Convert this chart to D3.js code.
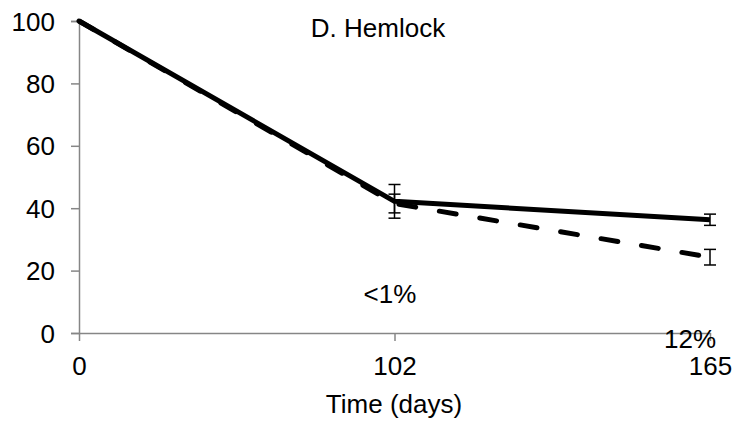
<!DOCTYPE html>
<html>
<head>
<meta charset="utf-8">
<script src="https://cdn.jsdelivr.net/npm/d3@7"></script>
<style>
  html, body { margin: 0; padding: 0; background: #fff; }
  svg { display: block; font-family: "Liberation Sans", Arial, sans-serif; }
</style>
</head>
<body>
<svg id="chart" width="738" height="422"></svg>
<script>
const categories = ["0", "102", "165"];
const solidValues = [100, 42.2, 36.3];
const solidErrors = [0, 5.4, 1.8];
const dashedValues = [100, 41.5, 24.3];
const dashedErrors = [0, 3.0, 2.5];
const yTickValues = [0, 20, 40, 60, 80, 100];
const title = "D. Hemlock";
const xTitle = "Time (days)";
const annotationTexts = ["<1%", "12%"];

const svg = d3.select("#chart");
const x = d3.scalePoint().domain(categories).range([79, 710]).padding(0);
const y = d3.scaleLinear().domain([0, 100]).range([333, 21]);
const axisColor = "#868686";
const fs = 26;
const ff = "Liberation Sans, Arial, sans-serif";

// Y axis
const yAxis = svg.append("g").attr("transform", "translate(79,0)")
  .call(d3.axisLeft(y).tickValues(yTickValues).tickSize(8).tickPadding(16));
yAxis.select(".domain").attr("stroke", axisColor).attr("stroke-width", 1.5);
yAxis.selectAll(".tick line").attr("stroke", axisColor).attr("stroke-width", 1.5);
yAxis.selectAll(".tick text").attr("font-size", fs).attr("fill", "#000")
  .attr("font-family", ff).attr("dy", "0.35em");

// X axis
const xAxis = svg.append("g").attr("transform", "translate(0,333)")
  .call(d3.axisBottom(x).tickSize(8).tickSizeOuter(0).tickPadding(16));
xAxis.select(".domain").attr("stroke", axisColor).attr("stroke-width", 1.5);
xAxis.selectAll(".tick line").attr("stroke", axisColor).attr("stroke-width", 1.5);
xAxis.selectAll(".tick text").attr("font-size", fs).attr("fill", "#000")
  .attr("font-family", ff).attr("dy", "0.71em");

// Lines
const line = d3.line().x((d, i) => x(categories[i])).y(d => y(d));

svg.append("path").datum(dashedValues)
  .attr("d", line).attr("fill", "none").attr("stroke", "#000")
  .attr("stroke-width", 5).attr("stroke-dasharray", "17 24")
  .attr("stroke-linecap", "round").attr("stroke-linejoin", "round");

svg.append("path").datum(solidValues)
  .attr("d", line).attr("fill", "none").attr("stroke", "#000")
  .attr("stroke-width", 5).attr("stroke-linejoin", "round");

// Error bars
function errorBars(values, errors) {
  const g = svg.append("g").attr("stroke", "#000").attr("stroke-width", 1.5);
  values.forEach((v, i) => {
    const e = errors[i];
    if (!e) return;
    const cx = x(categories[i]);
    g.append("line").attr("x1", cx).attr("x2", cx).attr("y1", y(v - e)).attr("y2", y(v + e));
    g.append("line").attr("x1", cx - 6).attr("x2", cx + 6).attr("y1", y(v - e)).attr("y2", y(v - e));
    g.append("line").attr("x1", cx - 6).attr("x2", cx + 6).attr("y1", y(v + e)).attr("y2", y(v + e));
  });
}
errorBars(solidValues, solidErrors);
errorBars(dashedValues, dashedErrors);

// Texts
svg.append("text").attr("x", 378).attr("y", 37).attr("text-anchor", "middle")
  .attr("font-size", fs).text(title);
svg.append("text").attr("x", 394).attr("y", 413).attr("text-anchor", "middle")
  .attr("font-size", fs).text(xTitle);
svg.append("text").attr("x", 390).attr("y", 303)
  .attr("text-anchor", "middle").attr("font-size", fs).text(annotationTexts[0]);
svg.append("text").attr("x", 690).attr("y", 348)
  .attr("text-anchor", "middle").attr("font-size", fs).text(annotationTexts[1]);
</script>
</body>
</html>
